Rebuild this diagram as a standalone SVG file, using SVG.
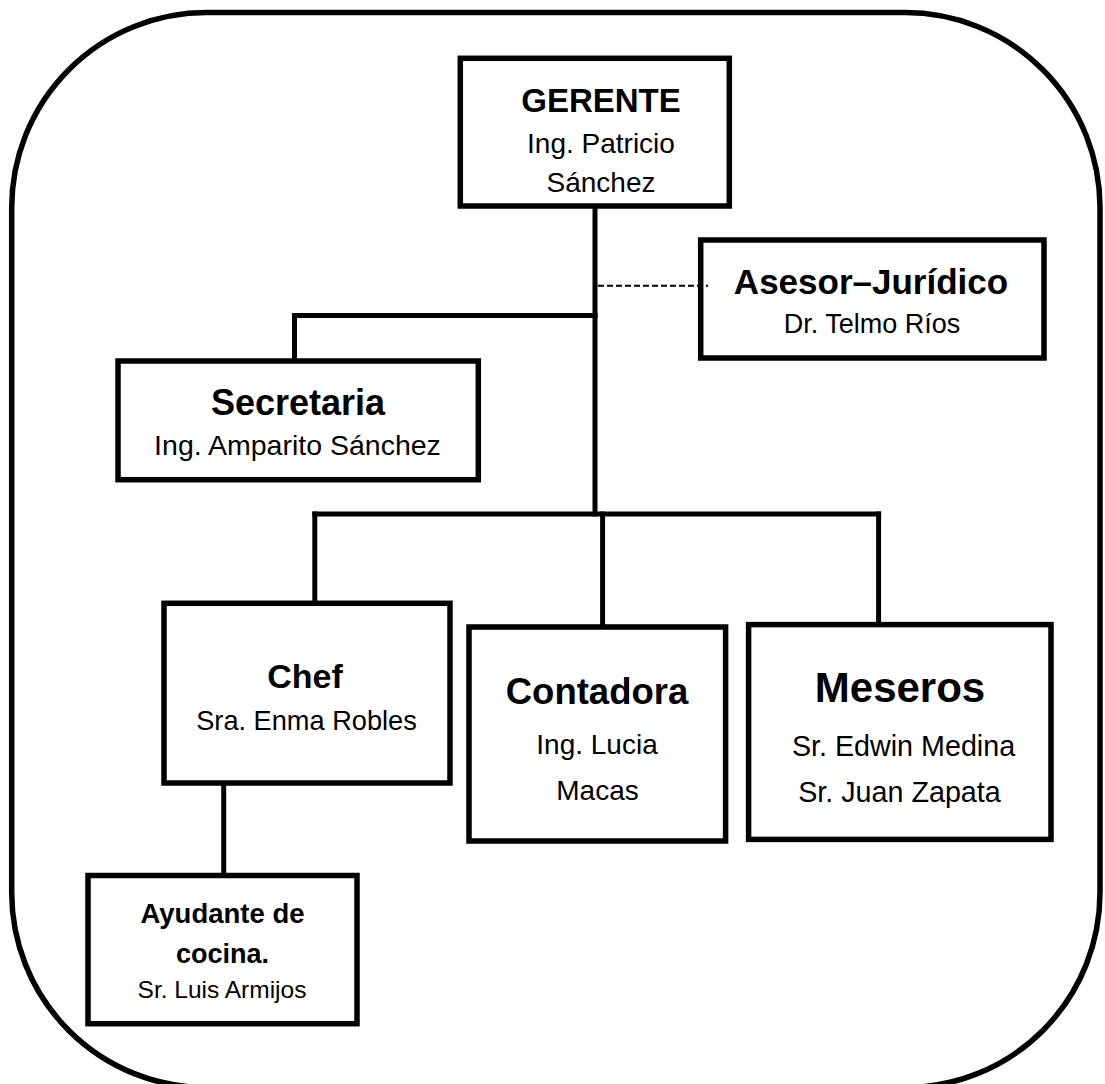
<svg xmlns="http://www.w3.org/2000/svg" width="1105" height="1084" viewBox="0 0 1105 1084">
  <style>
    .frame { fill: none; stroke: #000; stroke-width: 5.5; }
    .box { fill: #fff; stroke: #000; stroke-width: 5.5; stroke-linejoin: miter; }
    .link { fill: none; stroke: #000; stroke-width: 5; stroke-linecap: square; }
    .dash { fill: none; stroke: #000; stroke-width: 2; stroke-dasharray: 6 3; }
    text { font-family: "Liberation Sans", Arial, sans-serif; fill: #000; text-anchor: middle; }
    .t { font-weight: bold; }
    .n { font-weight: normal; }
  </style>
  <rect width="1105" height="1084" fill="#fff"/>

  <!-- outer rounded frame -->
  <rect class="frame" x="11.7" y="12.6" width="1088.3" height="1075" rx="195" ry="195"/>

  <g id="gerente">
    <rect class="box" x="460.3" y="58.3" width="269" height="147.7"/>
    <text class="t" x="601" y="112" font-size="33">GERENTE</text>
    <text class="n" x="601" y="153" font-size="28">Ing. Patricio</text>
    <text class="n" x="601" y="192" font-size="28">Sánchez</text>
  </g>

  <g id="asesor">
    <rect class="box" x="700.7" y="240" width="343.3" height="118"/>
    <text class="t" x="871" y="294" font-size="35">Asesor–Jurídico</text>
    <text class="n" x="872" y="333" font-size="27">Dr. Telmo Ríos</text>
  </g>

  <g id="secretaria">
    <rect class="box" x="118" y="361" width="360.3" height="118.7"/>
    <text class="t" x="298" y="415" font-size="36">Secretaria</text>
    <text class="n" x="297.5" y="455" font-size="28.5">Ing. Amparito Sánchez</text>
  </g>

  <g id="chef">
    <rect class="box" x="164" y="603.3" width="286" height="179.7"/>
    <text class="t" x="305" y="688" font-size="34">Chef</text>
    <text class="n" x="306.5" y="730" font-size="27.2">Sra. Enma Robles</text>
  </g>

  <g id="contadora">
    <rect class="box" x="469" y="627" width="256.6" height="214"/>
    <text class="t" x="597" y="704" font-size="36.5">Contadora</text>
    <text class="n" x="597" y="754" font-size="28">Ing. Lucia</text>
    <text class="n" x="597.5" y="800" font-size="28">Macas</text>
  </g>

  <g id="meseros">
    <rect class="box" x="748.6" y="624.6" width="302.4" height="214.8"/>
    <text class="t" x="900" y="702" font-size="42">Meseros</text>
    <text class="n" x="903.5" y="756" font-size="28.7">Sr. Edwin Medina</text>
    <text class="n" x="899.5" y="802" font-size="28.7">Sr. Juan Zapata</text>
  </g>

  <g id="ayudante">
    <rect class="box" x="88" y="875.5" width="269" height="148.2"/>
    <text class="t" x="222.5" y="923" font-size="27.5">Ayudante de</text>
    <text class="t" x="222.5" y="963" font-size="27">cocina.</text>
    <text class="n" x="222" y="998" font-size="24.5">Sr. Luis Armijos</text>
  </g>

  <!-- connectors, drawn last so the dashed advisory line overlaps the box edge -->
  <g id="connectors">
    <path class="link" d="M595 208 V514"/>
    <path class="link" d="M595 315.5 H294.5 V359"/>
    <path class="link" d="M314.8 514 H878.6"/>
    <path class="link" d="M314.8 514 V601"/>
    <path class="link" d="M602.6 514 V625"/>
    <path class="link" d="M878.6 514 V622"/>
    <path class="link" d="M223.7 785 V873"/>
    <path class="dash" d="M598 285.7 H708"/>
  </g>
</svg>
